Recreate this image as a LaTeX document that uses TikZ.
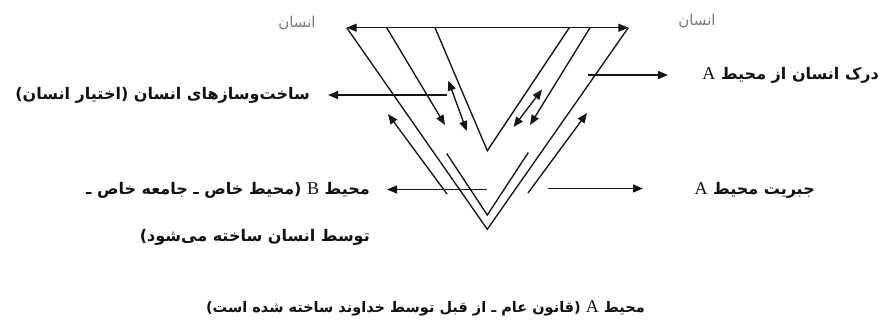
\documentclass[tikz,border=0pt]{standalone}
\usepackage{fontspec}
\usetikzlibrary{arrows.meta}
\TeXXeTstate=1
\newfontfamily\fa[Script=Arabic]{DejaVu Sans}
\newfontfamily\lat{Liberation Serif}
\newcommand\latA[1]{{\lat\mdseries\fontsize{18}{19}\selectfont #1}}
\definecolor{inkline}{HTML}{151515}
\definecolor{inktext}{HTML}{111111}
\definecolor{humangray}{HTML}{7A7A7A}

\begin{document}
\begin{tikzpicture}[x=1pt, y=-1pt,
  ln/.style  = {draw=inkline, line width=1.35pt},
  arr/.style = {ln, -{Triangle[length=10pt, width=8pt]}},
  dbl/.style = {ln, {Triangle[length=10pt, width=8pt]}-{Triangle[length=10pt, width=8pt]}},
  lbl/.style = {font=\fa\bfseries\fontsize{16}{19}\selectfont, text=inktext, inner sep=0pt},
  who/.style = {font=\fa\fontsize{15}{18}\selectfont, text=humangray, inner sep=0pt},
]
\useasboundingbox (0,0) rectangle (890,325);

% --- the three V's -------------------------------------------------------------------------------
\coordinate (topL)  at (346.7,27.7);
\coordinate (topR)  at (628.3,27.7);
\coordinate (apexO) at (487.3,229.3);
\coordinate (inL)   at (435,27.7);
\coordinate (inR)   at (569.3,27.7);
\coordinate (apexI) at (487.3,150.7);
\coordinate (midL)  at (446.7,153.5);
\coordinate (midR)  at (528.3,152.5);
\coordinate (apexM) at (487.3,215);

\draw[dbl] (topL) -- (topR);
\draw[ln] (topL) -- (apexO) -- (topR);
\draw[ln] (inL) -- (apexI) -- (inR);
\draw[ln] (midL) -- (apexM) -- (midR);

% --- arrows inside the V -------------------------------------------------------------------------
\coordinate (dnLs) at (386.7,27.7);  \coordinate (dnLt) at (445,125);
\coordinate (dnRs) at (590,27.7);    \coordinate (dnRt) at (530,125);
\draw[arr] (dnLs) -- (dnLt);
\draw[arr] (dnRs) -- (dnRt);

\coordinate (twL1) at (448.3,80.5);  \coordinate (twL2) at (466.7,131);
\coordinate (twR1) at (542,89.5);    \coordinate (twR2) at (513.5,127);
\draw[dbl] (twL1) -- (twL2);
\draw[dbl] (twR1) -- (twR2);

\coordinate (upLs) at (447,194);     \coordinate (upLt) at (388,114);
\coordinate (upRs) at (528,193);     \coordinate (upRt) at (587,113);
\draw[arr] (upLs) -- (upLt);
\draw[arr] (upRs) -- (upRt);

% --- pointers to the labels ----------------------------------------------------------------------
\coordinate (buildS) at (446.7,95);  \coordinate (buildT) at (328,95);
\coordinate (percS)  at (588,75);    \coordinate (percT)  at (668,75);
\coordinate (envBS)  at (487,189.5); \coordinate (envBT)  at (387,189.5);
\coordinate (forceS) at (548,188.5); \coordinate (forceT) at (643,188.5);
\draw[arr] (buildS) -- (buildT);
\draw[arr] (percS) -- (percT);
\draw[arr] (envBS) -- (envBT);
\draw[arr] (forceS) -- (forceT);

% --- labels --------------------------------------------------------------------------------------
\node[who] (humanL) at (297,23) {\beginR انسان\endR};
\node[who] (humanR) at (697,21) {\beginR انسان\endR};

\node[lbl, anchor=east] (perc)  at (879,75)  {\beginR درک انسان از محیط \latA{A}\endR};
\node[lbl, anchor=east] (build) at (310,95)  {\beginR ساخت‌وسازهای انسان (اختیار انسان)\endR};
\node[lbl, anchor=east] (envB)  at (370,190) {\beginR محیط \latA{B} (محیط خاص ـ جامعه خاص ـ\endR};
\node[lbl, anchor=east] (envBnote) at (370,237) {\beginR توسط انسان ساخته می‌شود)\endR};
\node[lbl, anchor=east] (force) at (815,190) {\beginR جبریت محیط \latA{A}\endR};
\node[lbl, anchor=east, font=\fa\bfseries\fontsize{14.5}{17}\selectfont] (envA) at (645,308)
  {\beginR محیط \latA{A} (قانون عام ـ از قبل توسط خداوند ساخته شده است)\endR};

\end{tikzpicture}
\end{document}
